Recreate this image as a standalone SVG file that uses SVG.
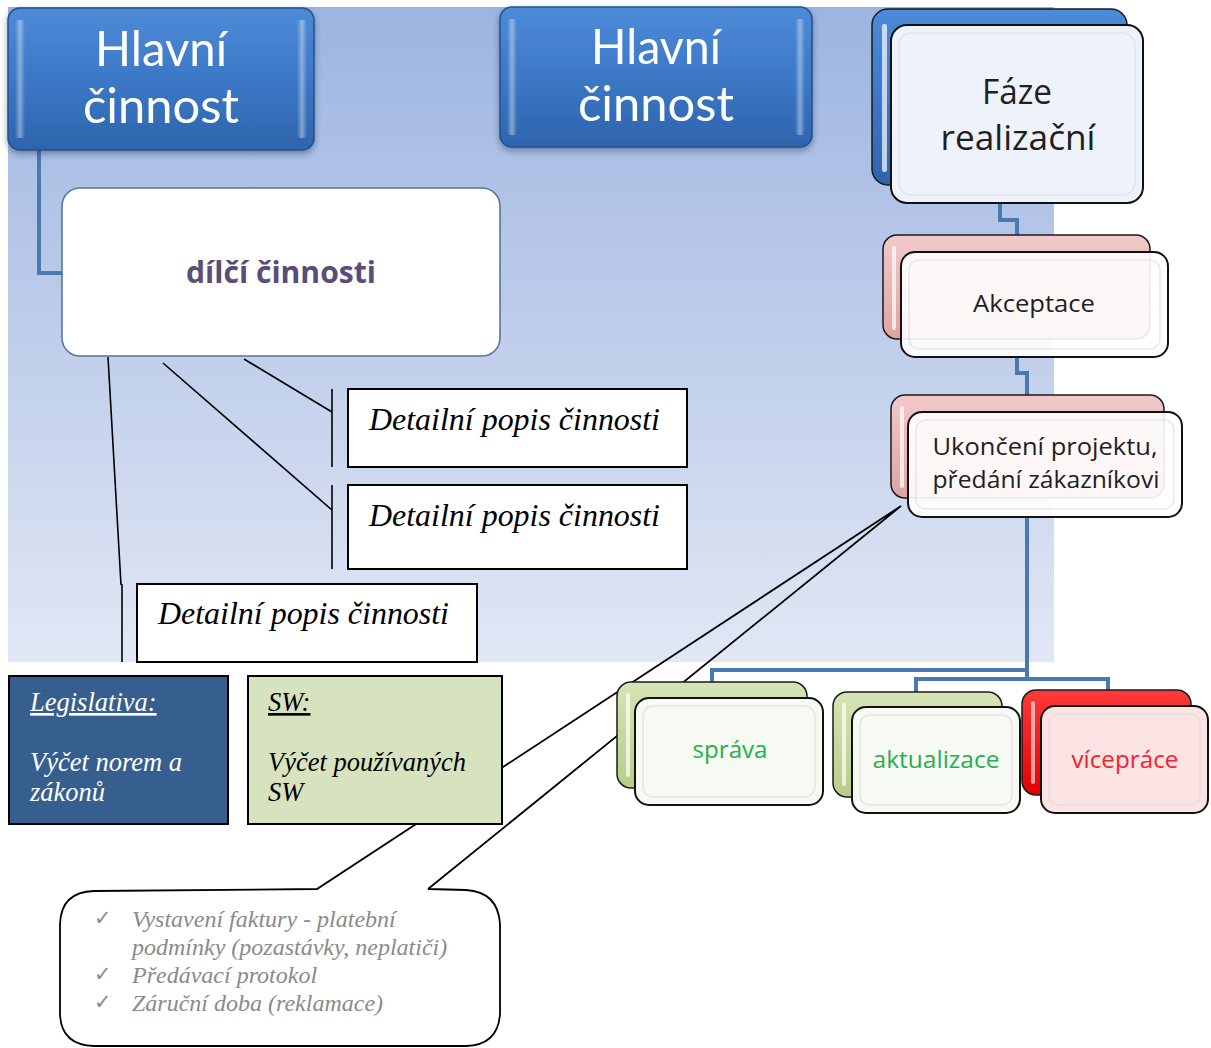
<svg xmlns="http://www.w3.org/2000/svg" width="1211" height="1048" viewBox="0 0 1211 1048">
  <defs>
    <linearGradient id="bg" x1="0" y1="0" x2="0" y2="1">
      <stop offset="0" stop-color="#9db4e1"/>
      <stop offset="1" stop-color="#e1e7f4"/>
    </linearGradient>
    <linearGradient id="blueBtn" x1="0" y1="0" x2="0" y2="1">
      <stop offset="0" stop-color="#4d8bd8"/>
      <stop offset="0.5" stop-color="#3c78c6"/>
      <stop offset="1" stop-color="#2e64ad"/>
    </linearGradient>
    <linearGradient id="pinkBack" x1="0" y1="0" x2="0" y2="1">
      <stop offset="0" stop-color="#f1c9c9"/>
      <stop offset="1" stop-color="#dea3a3"/>
    </linearGradient>
    <linearGradient id="greenBack" x1="0" y1="0" x2="0" y2="1">
      <stop offset="0" stop-color="#d6e4b6"/>
      <stop offset="1" stop-color="#b7cd86"/>
    </linearGradient>
    <linearGradient id="redBack" x1="0" y1="0" x2="0" y2="1">
      <stop offset="0" stop-color="#ff3a3a"/>
      <stop offset="1" stop-color="#e40000"/>
    </linearGradient>
    <linearGradient id="sheen" x1="0" y1="0" x2="1" y2="0">
      <stop offset="0" stop-color="#ffffff" stop-opacity="0"/>
      <stop offset="0.5" stop-color="#ffffff" stop-opacity="0.4"/>
      <stop offset="1" stop-color="#ffffff" stop-opacity="0"/>
    </linearGradient>
    <filter id="shadow" x="-10%" y="-10%" width="120%" height="130%">
      <feDropShadow dx="0" dy="3" stdDeviation="3" flood-color="#1a2f55" flood-opacity="0.45"/>
    </filter>
    <style>
      .main { fill: url(#blueBtn); stroke: #24508c; stroke-width: 1.5; }
      .gloss { fill: url(#sheen); }
      .mainTxt { font-family: Lato, "Open Sans", sans-serif; font-size: 48px; fill: #ffffff; text-anchor: middle; }
      .back { stroke: #1a1a1a; stroke-width: 1.5; }
      .front { fill: #ffffff; fill-opacity: 0.9; stroke: #111111; stroke-width: 2; }
      .inner { fill: none; stroke: #d8d8d8; stroke-opacity: 0.6; stroke-width: 1.5; }
      .lbl { font-family: "Open Sans", "Noto Sans", sans-serif; font-size: 24px; fill: #1f1f1f; text-anchor: middle; }
      .big { font-size: 35px; }
      .conn { fill: none; stroke: #4a78b0; stroke-width: 4; }
      .lead { fill: none; stroke: #000000; stroke-width: 1.6; }
      .box { fill: #ffffff; stroke: #000000; stroke-width: 2; }
      .ital { font-family: "Liberation Serif", "Times New Roman", serif; font-style: italic; }
      .note { font-family: "Liberation Serif", "Times New Roman", serif; font-style: italic; font-size: 24px; fill: #8a8a8a; }
      .check { font-family: "DejaVu Sans", sans-serif; font-size: 21px; fill: #8a8a8a; }
      .green { fill: #25b04f; }
      .red { fill: #f8202a; }
    </style>
  </defs>

  <!-- backdrop panel -->
  <rect x="8" y="7" width="1046" height="655" fill="url(#bg)"/>

  <!-- connectors -->
  <g id="connectors">
    <path class="conn" d="M39,150 V273 H63"/>
    <path class="conn" d="M1000,203 V220 H1017 V236"/>
    <path class="conn" d="M1017,357 V373 H1027 V396"/>
    <path class="conn" d="M1027,517 V680"/>
    <path class="conn" d="M1027,670 H712 V684"/>
    <path class="conn" d="M916,693 V679 H1108 V691"/>
    <!-- leader lines of the detail callouts -->
    <line class="lead" x1="332" y1="412" x2="244" y2="359"/>
    <line class="lead" x1="332" y1="510" x2="163" y2="363"/>
    <line class="lead" x1="121" y1="585" x2="108" y2="357"/>
  </g>

  <g id="hlavni-1" filter="url(#shadow)">
    <rect class="main" x="8" y="8" width="306" height="142" rx="12"/>
    <rect class="gloss" x="15" y="20" width="10" height="118" rx="3"/>
    <rect class="gloss" x="297" y="20" width="10" height="118" rx="3"/>
    <text class="mainTxt" x="161" y="66" textLength="132" lengthAdjust="spacingAndGlyphs">Hlavní</text>
    <text class="mainTxt" x="161" y="123" textLength="156" lengthAdjust="spacingAndGlyphs">činnost</text>
  </g>

  <g id="hlavni-2" filter="url(#shadow)">
    <rect class="main" x="500" y="7" width="312" height="140" rx="12"/>
    <rect class="gloss" x="507" y="19" width="10" height="116" rx="3"/>
    <rect class="gloss" x="795" y="19" width="10" height="116" rx="3"/>
    <text class="mainTxt" x="656" y="64" textLength="130" lengthAdjust="spacingAndGlyphs">Hlavní</text>
    <text class="mainTxt" x="656" y="121" textLength="156" lengthAdjust="spacingAndGlyphs">činnost</text>
  </g>

  <g id="dilci">
    <rect x="62" y="188" width="438" height="168" rx="18" fill="#ffffff" stroke="#56769f" stroke-width="1.6"/>
    <text x="281" y="283" font-family="Open Sans, Noto Sans, sans-serif" font-weight="bold" font-size="30" fill="#5a4d78" text-anchor="middle" textLength="190" lengthAdjust="spacingAndGlyphs">dílčí činnosti</text>
  </g>

  <g id="detail-1">
    <line class="lead" x1="332" y1="389" x2="332" y2="467"/>
    <rect class="box" x="348" y="389" width="339" height="78"/>
    <text class="ital" x="369" y="430" font-size="31" textLength="291" lengthAdjust="spacingAndGlyphs">Detailní popis činnosti</text>
  </g>
  <g id="detail-2">
    <line class="lead" x1="332" y1="485" x2="332" y2="569"/>
    <rect class="box" x="348" y="485" width="339" height="84"/>
    <text class="ital" x="369" y="526" font-size="31" textLength="291" lengthAdjust="spacingAndGlyphs">Detailní popis činnosti</text>
  </g>
  <g id="detail-3">
    <line class="lead" x1="122" y1="584" x2="122" y2="662"/>
    <rect class="box" x="137" y="584" width="340" height="78"/>
    <text class="ital" x="158" y="624" font-size="31" textLength="291" lengthAdjust="spacingAndGlyphs">Detailní popis činnosti</text>
  </g>

  <!-- speech callout with the closing checklist -->
  <g id="callout">
    <path d="M94,891 L317,889 L428,889 L466,890 Q498,892 500,924 L500,1014 Q498,1045 466,1046 L94,1046 Q61,1045 60,1014 L60,924 Q61,892 94,891 Z" fill="#ffffff"/>
    <path d="M428,889 L466,890 Q498,892 500,924 L500,1014 Q498,1045 466,1046 L94,1046 Q61,1045 60,1014 L60,924 Q61,892 94,891 L317,889 L901,506 L428,889" fill="none" stroke="#000000" stroke-width="1.8" stroke-linejoin="miter"/>
    <text class="check" x="94" y="925">✓</text>
    <text class="note" x="132" y="927">Vystavení faktury - platební</text>
    <text class="note" x="132" y="955">podmínky (pozastávky, neplatiči)</text>
    <text class="check" x="94" y="981">✓</text>
    <text class="note" x="132" y="983">Předávací protokol</text>
    <text class="check" x="94" y="1009">✓</text>
    <text class="note" x="132" y="1011">Záruční doba (reklamace)</text>
  </g>

  <g id="legislativa">
    <rect x="9" y="676" width="219" height="148" fill="#365f8f" stroke="#000000" stroke-width="2"/>
    <text class="ital" x="30" y="711" font-size="26.5" fill="#ffffff" text-decoration="underline">Legislativa:</text>
    <text class="ital" x="30" y="771" font-size="26.5" fill="#ffffff">Výčet norem a</text>
    <text class="ital" x="30" y="801" font-size="26.5" fill="#ffffff">zákonů</text>
  </g>

  <g id="sw">
    <rect x="248" y="676" width="254" height="148" fill="#d7e3bf" stroke="#000000" stroke-width="2"/>
    <text class="ital" x="268" y="711" font-size="26.5" fill="#000000" text-decoration="underline">SW:</text>
    <text class="ital" x="268" y="771" font-size="26.5" fill="#000000">Výčet používaných</text>
    <text class="ital" x="268" y="801" font-size="26.5" fill="#000000">SW</text>
  </g>

  <g id="faze">
    <rect class="back" x="872" y="9" width="255" height="176" rx="16" fill="url(#blueBtn)"/>
    <rect x="882" y="24" width="5" height="148" rx="2" fill="#ffffff" opacity="0.7"/>
    <rect class="front" x="891" y="25" width="252" height="178" rx="16" style="fill:#eef2fa;fill-opacity:1"/>
    <rect class="inner" x="899" y="33" width="236" height="162" rx="12"/>
    <text class="lbl big" x="1017" y="104" textLength="70" lengthAdjust="spacingAndGlyphs">Fáze</text>
    <text class="lbl big" x="1018" y="150" textLength="155" lengthAdjust="spacingAndGlyphs">realizační</text>
  </g>

  <g id="akceptace">
    <rect class="back" x="883" y="235" width="267" height="104" rx="14" fill="url(#pinkBack)"/>
    <rect x="892" y="246" width="4" height="84" rx="2" fill="#ffffff" opacity="0.7"/>
    <rect class="front" x="901" y="252" width="267" height="105" rx="14"/>
    <rect class="inner" x="909" y="260" width="251" height="89" rx="10"/>
    <text class="lbl" x="1034" y="312" textLength="122" lengthAdjust="spacingAndGlyphs">Akceptace</text>
  </g>

  <g id="ukonceni">
    <rect class="back" x="891" y="395" width="273" height="103" rx="14" fill="url(#pinkBack)"/>
    <rect x="900" y="406" width="4" height="82" rx="2" fill="#ffffff" opacity="0.7"/>
    <rect class="front" x="908" y="412" width="274" height="105" rx="14"/>
    <rect class="inner" x="916" y="420" width="258" height="89" rx="10"/>
    <text class="lbl" x="1045" y="455" textLength="225" lengthAdjust="spacingAndGlyphs">Ukončení projektu,</text>
    <text class="lbl" x="1046" y="488" textLength="227" lengthAdjust="spacingAndGlyphs">předání zákazníkovi</text>
  </g>

  <g id="sprava">
    <rect class="back" x="617" y="682" width="190" height="106" rx="14" fill="url(#greenBack)"/>
    <rect x="626" y="693" width="4" height="84" rx="2" fill="#ffffff" opacity="0.7"/>
    <rect class="front" x="635" y="698" width="188" height="107" rx="14" style="fill:#f7faf2;fill-opacity:1"/>
    <rect class="inner" x="643" y="706" width="172" height="91" rx="10"/>
    <text class="lbl green" x="730" y="758" textLength="75" lengthAdjust="spacingAndGlyphs">správa</text>
  </g>

  <g id="aktualizace">
    <rect class="back" x="833" y="692" width="169" height="105" rx="14" fill="url(#greenBack)"/>
    <rect x="842" y="703" width="4" height="83" rx="2" fill="#ffffff" opacity="0.7"/>
    <rect class="front" x="852" y="707" width="168" height="106" rx="14" style="fill:#f7faf2;fill-opacity:1"/>
    <rect class="inner" x="860" y="715" width="152" height="90" rx="10"/>
    <text class="lbl green" x="936" y="768" textLength="127" lengthAdjust="spacingAndGlyphs">aktualizace</text>
  </g>

  <g id="viceprace">
    <rect class="back" x="1022" y="690" width="169" height="105" rx="14" fill="url(#redBack)"/>
    <rect x="1031" y="701" width="4" height="83" rx="2" fill="#ffffff" opacity="0.6"/>
    <rect class="front" x="1041" y="706" width="167" height="107" rx="14" style="fill:#fde4e4;fill-opacity:1"/>
    <rect class="inner" x="1049" y="714" width="151" height="91" rx="10"/>
    <text class="lbl red" x="1125" y="768" textLength="107" lengthAdjust="spacingAndGlyphs">vícepráce</text>
  </g>
</svg>
